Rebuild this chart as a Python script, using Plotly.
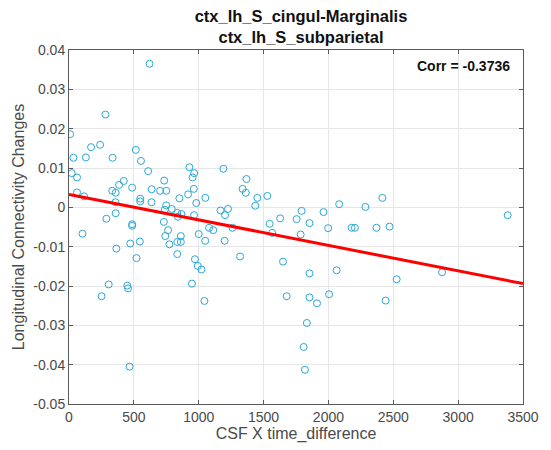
import plotly.graph_objects as go

# Scatter data (CSF X time_difference, Longitudinal Connectivity Changes)
x_vals = [621, 281, 9, 170, 240, 34, 130, 336, 515, 555, 21, 62, 610, 928, 965, 953, 1190, 1368,
          734, 422, 386, 333, 360, 62, 116, 487, 637, 702, 750, 962, 918, 851, 1051, 1338, 1363,
          1452, 1529, 1436, 549, 549, 636, 358, 981, 749, 739, 792, 835, 867, 840, 964, 1168,
          1226, 1203, 360, 288, 487, 487, 731, 1547, 1628, 1755, 1080, 1112, 1260, 104, 472, 546,
          365, 520, 306, 449, 455, 251, 467, 764, 742, 774, 835, 862, 862, 835, 971, 993, 1021,
          948, 1000, 1050, 1044, 1200, 1319, 1566, 1650, 1678, 2416, 2083, 2285, 1793, 1854,
          1962, 3382, 1998, 2179, 2204, 2370, 2471, 1786, 1854, 2063, 2526, 2876, 1854, 1912,
          2005, 2441, 1834, 1809, 1819]
y_vals = [0.0365, 0.0236, 0.0186, 0.0153, 0.0159, 0.0126, 0.0127, 0.0126, 0.0146, 0.0118, 0.0087,
          0.0076, 0.0092, 0.0102, 0.0087, 0.0076, 0.0098, 0.0072, 0.0068, 0.0067, 0.0057, 0.0042,
          0.0037, 0.0038, 0.0028, 0.0050, 0.0046, 0.0042, 0.0042, 0.0047, 0.0033, 0.0023, 0.0024,
          0.0047, 0.0037, 0.0024, 0.0029, 0.0004, 0.0022, 0.0015, 0.0013, 0.0013, 0.0011, 0.0005,
          -0.0006, -0.0004, -0.0014, -0.0017, -0.0024, -0.0020, -0.0008, -0.0004, -0.0020,
          -0.0015, -0.0029, -0.0043, -0.0047, -0.0037, -0.0042, -0.0028, -0.0030, -0.0052,
          -0.0058, -0.0052, -0.0067, -0.0092, -0.0087, -0.0105, -0.0129, -0.0196, -0.0199,
          -0.0206, -0.0226, -0.0405, -0.0058, -0.0073, -0.0094, -0.0088, -0.0088, -0.0073,
          -0.0119, -0.0132, -0.0149, -0.0158, -0.0194, -0.0068, -0.0085, -0.0238, -0.0085,
          -0.0125, -0.0065, -0.0138, -0.0226, 0.0024, 0.0008, 0.0001, -0.0009, -0.0040, -0.0012,
          -0.0020, -0.0053, -0.0052, -0.0052, -0.0052, -0.0049, -0.0069, -0.0168, -0.0160,
          -0.0183, -0.0165, -0.0229, -0.0244, -0.0221, -0.0237, -0.0294, -0.0355, -0.0413]

# Fitted regression line endpoints
fit_x = [0, 3500]
fit_y = [0.0033, -0.0194]

corr_text = "Corr = -0.3736"
title_lines = ["ctx_lh_S_cingul-Marginalis", "ctx_lh_S_subparietal"]
x_label = "CSF X time_difference"
y_label = "Longitudinal Connectivity Changes"

x_ticks = [0, 500, 1000, 1500, 2000, 2500, 3000, 3500]
y_ticks = [0.04, 0.03, 0.02, 0.01, 0, -0.01, -0.02, -0.03, -0.04, -0.05]
y_tick_text = ["0.04", "0.03", "0.02", "0.01", "0", "-0.01", "-0.02", "-0.03", "-0.04", "-0.05"]

FONT = "Liberation Sans, Arial, sans-serif"
GRAY = "#4a4a4a"

fig = go.Figure()
fig.add_trace(go.Scatter(
    x=x_vals, y=y_vals, mode="markers",
    marker=dict(symbol="circle-open", size=7, color="#2aa7d6", line=dict(width=1, color="#2aa7d6")),
    showlegend=False, hoverinfo="skip"))
fig.add_trace(go.Scatter(
    x=fit_x, y=fit_y, mode="lines",
    line=dict(color="#ff0000", width=3), showlegend=False, hoverinfo="skip"))

fig.add_annotation(text="<b>" + corr_text + "</b>", xref="paper", yref="paper",
                   x=0.975, y=0.955, xanchor="right", yanchor="middle", showarrow=False,
                   font=dict(family=FONT, size=14, color="#111111"))

fig.update_layout(
    width=551, height=450,
    margin=dict(l=69, r=18, t=50, b=45),
    paper_bgcolor="white", plot_bgcolor="white",
    font=dict(family=FONT, color=GRAY),
    title=dict(text="<b>" + "<br>".join(title_lines) + "</b>",
               x=(69 + 533) / 2 / 551, xanchor="center", y=1 - 22 / 450, yanchor="top",
               font=dict(family=FONT, size=16.5, color="#111111")),
    xaxis=dict(range=[0, 3500], tickvals=x_ticks, ticks="inside", ticklen=4,
               showgrid=True, gridcolor="#e6e6e6", gridwidth=1,
               showline=True, linecolor="#5a5a5a", linewidth=1, mirror="ticks",
               tickcolor="#5a5a5a", zeroline=False,
               tickfont=dict(size=14, color=GRAY),
               title=dict(text=x_label, font=dict(size=16, color=GRAY), standoff=2)),
    yaxis=dict(range=[-0.05, 0.04], tickvals=y_ticks, ticktext=y_tick_text,
               ticks="inside", ticklen=4,
               showgrid=True, gridcolor="#e6e6e6", gridwidth=1,
               showline=True, linecolor="#5a5a5a", linewidth=1, mirror="ticks",
               tickcolor="#5a5a5a", zeroline=False,
               tickfont=dict(size=14, color=GRAY),
               title=dict(text=y_label, font=dict(size=16, color=GRAY), standoff=4)),
)

fig.write_html("out.html")
